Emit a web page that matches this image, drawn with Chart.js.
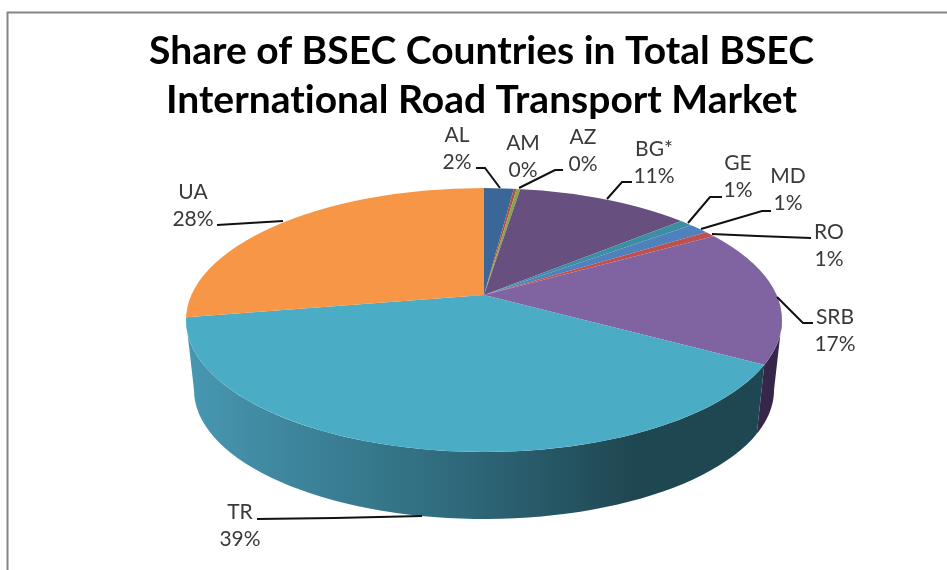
<!DOCTYPE html>
<html>
<head>
<meta charset="utf-8">
<title>BSEC road transport share</title>
<script src="https://cdn.jsdelivr.net/npm/chart.js@4"></script>
<style>
  html, body { margin: 0; padding: 0; background: #fff; }
  #wrap { width: 947px; height: 570px; }
</style>
</head>
<body>
<div id="wrap"><canvas id="canvas"></canvas></div>
<script>
const titleLines = ["Share of BSEC Countries in Total BSEC", "International Road Transport Market"]
const categories = ["AL", "AM", "AZ", "BG*", "GE", "MD", "RO", "SRB", "TR", "UA"]
const shares = [1.6, 0.15, 0.2, 10.2, 0.85, 1.4, 0.75, 17.85, 39.4, 27.6]
const shareLabels = ["2%", "0%", "0%", "11%", "1%", "1%", "1%", "17%", "39%", "28%"]
const sliceColors = ["#3a6797", "#b24d48", "#86a44a", "#67507f", "#3a8fa3", "#4f81bd", "#c0504d", "#8064a2", "#4bacc6", "#f79646"]

// where the label text sits and where its leader runs, same order as categories
const labelCentres = [[457, 135], [523, 143], [583, 137], [654, 149], [738, 163], [788, 176], [829, 232], [835, 317], [240, 512], [193, 192]]
const leaders = [
  [[476, 168], [485, 168], [500, 188]],
  [],
  [[563, 170], [555, 170], [519, 188]],
  [[632, 182], [622, 182], [607, 199]],
  [[722, 197], [710, 197], [688, 223]],
  [[771, 211], [762, 211], [701, 229]],
  [[811, 238], [757, 236], [712, 234]],
  [[813, 323], [803, 323], [777, 297]],
  [[257, 519], [335, 518], [422, 516]],
  [[217, 225], [283, 221]]
]

// perspective look of the pie: the tip is above the centre of the top ellipse
const tip = { x: 484, y: 295, up: 107, down: 135, across: 298 }
const topFace = { x: 484, y: 320, rx: 298, ry: 132 }
const bottomFace = { x: 484, y: 390, rx: 290, ry: 129 }

function faceParam(angle) {
  // angle is clockwise from north. find where that ray from the tip leaves the top ellipse
  const dx = Math.sin(angle) * tip.across
  const dy = -Math.cos(angle) * (Math.cos(angle) > 0 ? tip.up : tip.down)
  const ox = (tip.x - topFace.x) / topFace.rx
  const oy = (tip.y - topFace.y) / topFace.ry
  const vx = dx / topFace.rx
  const vy = dy / topFace.ry
  const a = vx * vx + vy * vy
  const b = 2 * (ox * vx + oy * vy)
  const c = ox * ox + oy * oy - 1
  const s = (-b + Math.sqrt(b * b - 4 * a * c)) / (2 * a)
  return Math.atan2(ox + vx * s, -(oy + vy * s))
}

function onFace(face, t) {
  return [face.x + face.rx * Math.sin(t), face.y - face.ry * Math.cos(t)]
}

function sidePath(ctx, from, to) {
  ctx.beginPath()
  for (let i = 0; i <= 60; i++) {
    const p = onFace(topFace, from + (to - from) * i / 60)
    ctx.lineTo(p[0], p[1])
  }
  for (let i = 60; i >= 0; i--) {
    const p = onFace(bottomFace, from + (to - from) * i / 60)
    ctx.lineTo(p[0], p[1])
  }
  ctx.closePath()
}

function drawSides(ctx, arcs) {
  const srbEnd = faceParam(arcs[7].endAngle + Math.PI / 2)
  sidePath(ctx, Math.PI / 2, srbEnd)
  ctx.fillStyle = "#35264a"
  ctx.fill()

  const shade = ctx.createLinearGradient(topFace.x - topFace.rx, 0, topFace.x + topFace.rx, 0)
  shade.addColorStop(0, "#4898b2")
  shade.addColorStop(0.2, "#3c8399")
  shade.addColorStop(0.45, "#2f6a7c")
  shade.addColorStop(0.75, "#1f4752")
  shade.addColorStop(1, "#1f4752")
  sidePath(ctx, srbEnd, Math.PI * 1.5)
  ctx.fillStyle = shade
  ctx.fill()
}

const pie3d = {
  id: "pie3d",
  beforeDraw(chart) {
    // no "ti" ligature in the title
    chart.ctx.textRendering = "optimizeSpeed"
  },
  beforeDatasetDraw(chart, args) {
    const ctx = chart.ctx
    const meta = args.meta
    const arcs = meta.data
    drawSides(ctx, arcs)

    // the library draws the wedges twice, squashed differently above and below the tip,
    // both oversized and cut down to the top ellipse
    const grow = tip.across * 1.4 / arcs[0].outerRadius
    ctx.save()
    ctx.beginPath()
    ctx.ellipse(topFace.x, topFace.y, topFace.rx, topFace.ry, 0, 0, Math.PI * 2)
    ctx.clip()
    const parts = [
      { y: 0, h: tip.y, squash: tip.up },
      { y: tip.y, h: 570 - tip.y, squash: tip.down }
    ]
    parts.forEach(function (part) {
      ctx.save()
      ctx.beginPath()
      ctx.rect(0, part.y - (part.y ? 0.5 : 0), 947, part.h + 0.5)
      ctx.clip()
      ctx.translate(tip.x, tip.y)
      ctx.scale(grow, grow * part.squash / tip.across)
      ctx.translate(-arcs[0].x, -arcs[0].y)
      meta.controller.draw()
      ctx.restore()
    })
    ctx.restore()
    return false
  },
  afterDraw(chart) {
    const ctx = chart.ctx
    ctx.save()
    ctx.strokeStyle = "#868686"
    ctx.lineWidth = 2
    ctx.beginPath()
    ctx.moveTo(7.5, 570)
    ctx.lineTo(7.5, 12.5)
    ctx.lineTo(947, 12.5)
    ctx.stroke()

    ctx.strokeStyle = "#111"
    ctx.lineWidth = 2
    leaders.forEach(function (points) {
      ctx.beginPath()
      points.forEach(function (p) { ctx.lineTo(p[0], p[1]) })
      ctx.stroke()
    })

    ctx.fillStyle = "#3a3a3a"
    ctx.font = "21px Lato"
    ctx.textAlign = "center"
    ctx.textBaseline = "middle"
    categories.forEach(function (name, i) {
      ctx.fillText(name, labelCentres[i][0], labelCentres[i][1])
      ctx.fillText(shareLabels[i], labelCentres[i][0], labelCentres[i][1] + 27)
    })
    ctx.restore()
  }
}

new Chart(document.getElementById("canvas"), {
  type: "pie",
  data: {
    labels: categories,
    datasets: [{
      data: shares,
      backgroundColor: sliceColors,
      borderWidth: 0
    }]
  },
  options: {
    responsive: true,
    maintainAspectRatio: false,
    animation: false,
    layout: { padding: { left: 16 } },
    plugins: {
      legend: { display: false },
      tooltip: { enabled: false },
      title: {
        display: true,
        text: titleLines,
        color: "#000",
        font: { family: "Lato", size: 39, weight: "bold", lineHeight: 1.28 },
        padding: { top: 26, bottom: 10 }
      }
    }
  },
  plugins: [pie3d]
})
</script>
</body>
</html>
